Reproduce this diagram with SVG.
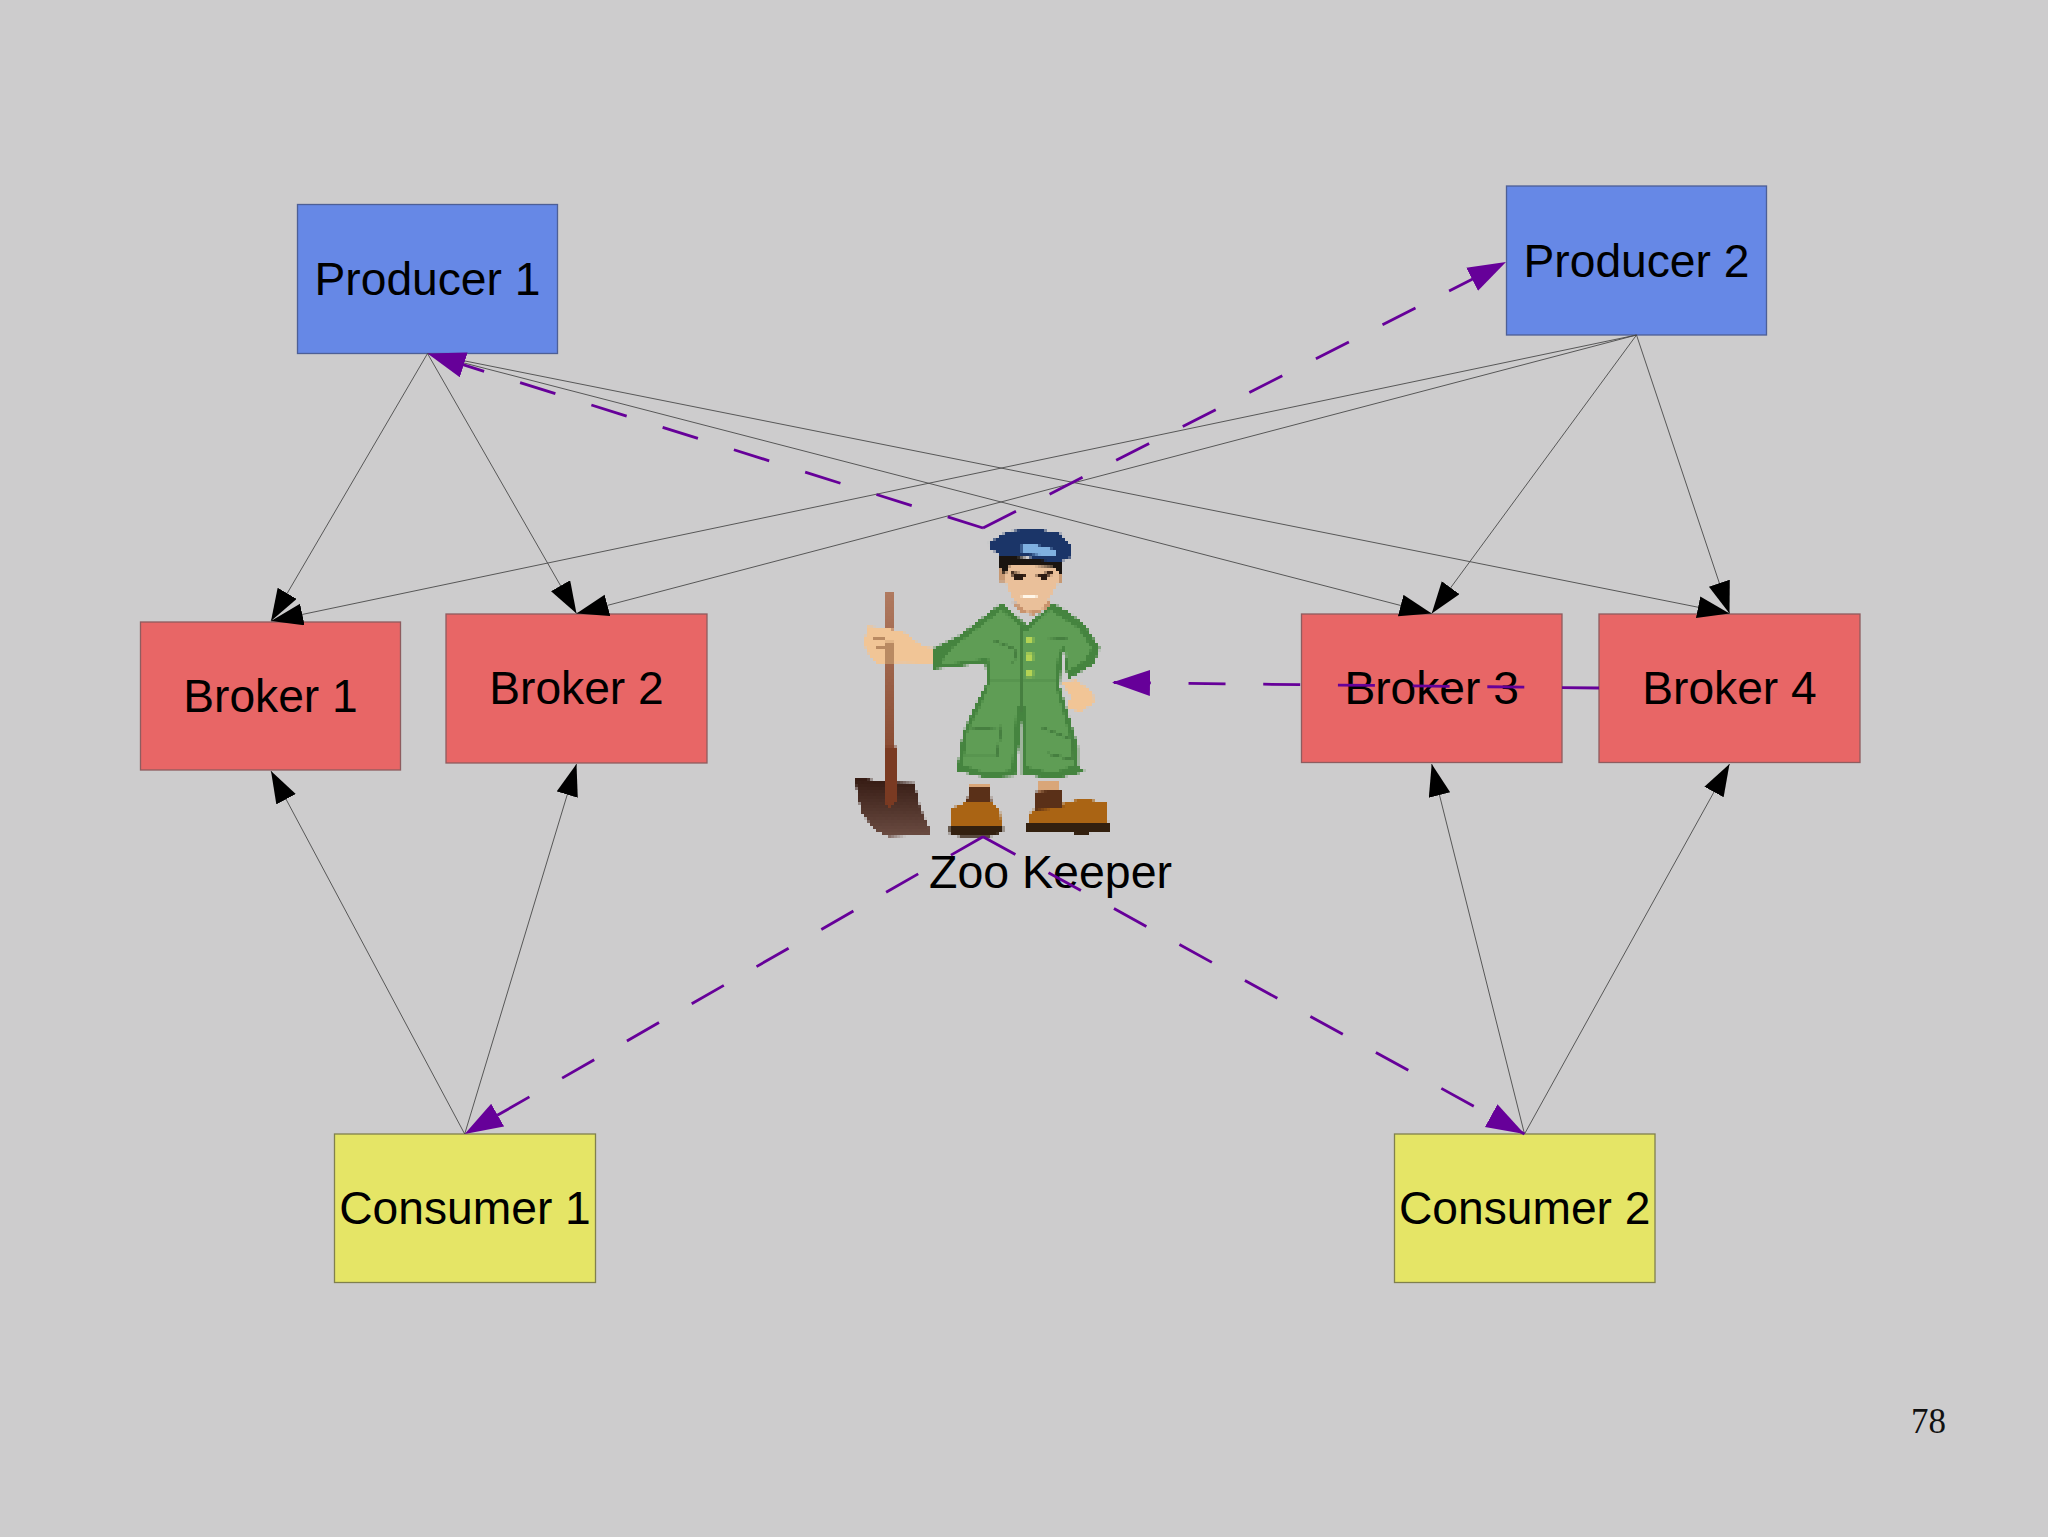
<svg xmlns="http://www.w3.org/2000/svg" width="2048" height="1537" viewBox="0 0 2048 1537">
<style>
.box{stroke-width:1.3}
.p{fill:#6688e6;stroke:#4d5f96}
.b{fill:#e86666;stroke:#8e5c5f}
.c{fill:#e5e566;stroke:#80804d}
.t{font-family:"Liberation Sans",Arial,sans-serif;font-size:46.2px;fill:#000;text-anchor:middle}
.g{stroke:#4a4a4a;stroke-width:.9;fill:none;marker-end:url(#ka)}
.v{stroke:#660099;stroke-width:2.8;fill:none;stroke-dasharray:37 37.7;marker-end:url(#va)}
.ol{fill:none;stroke:#467f40;stroke-width:6}
</style>
<defs>
<marker id="ka" markerUnits="userSpaceOnUse" markerWidth="34" markerHeight="24" refX="32" refY="11" orient="auto"><path d="M0 0L32 11L0 22Z" fill="#000"/></marker>
<marker id="va" markerUnits="userSpaceOnUse" markerWidth="40" markerHeight="28" refX="38" refY="13" orient="auto"><path d="M0 0L38 13L0 26Z" fill="#660099"/></marker>
<linearGradient id="blade" x1="0" y1="0" x2="0" y2="1"><stop offset="0" stop-color="#341a12"/><stop offset="1" stop-color="#6b4c42"/></linearGradient>
<linearGradient id="handle" x1="0" y1="0" x2="0" y2="1"><stop offset="0" stop-color="#b07a60"/><stop offset="1" stop-color="#7d3c24"/></linearGradient>
<filter id="px" x="840" y="520" width="315" height="345" filterUnits="userSpaceOnUse" primitiveUnits="userSpaceOnUse" color-interpolation-filters="sRGB">
<feFlood x="841" y="521" width="1" height="1" flood-color="#000"/>
<feComposite x="840" y="520" width="3" height="3"/>
<feTile result="a"/>
<feComposite in="SourceGraphic" in2="a" operator="in"/>
<feMorphology operator="dilate" radius="1"/>
</filter>
</defs>
<rect width="2048" height="1537" fill="#cdcccd"/>

<g id="node-producer1"><rect class="box p" x="297.5" y="204.5" width="260" height="149"/><text class="t" x="427.5" y="295">Producer 1</text></g>
<g id="node-producer2"><rect class="box p" x="1506.5" y="186" width="260" height="149"/><text class="t" x="1636.5" y="277">Producer 2</text></g>
<g id="node-broker1"><rect class="box b" x="140.5" y="622" width="260" height="148"/><text class="t" x="270.5" y="712">Broker 1</text></g>
<g id="node-broker2"><rect class="box b" x="446" y="614" width="261" height="149"/><text class="t" x="576.5" y="704">Broker 2</text></g>
<g id="node-broker3"><rect class="box b" x="1301.5" y="614" width="260.5" height="148.5"/><text class="t" x="1431.7" y="704">Broker 3</text></g>
<g id="node-broker4"><rect class="box b" x="1599" y="614" width="261" height="148.5"/><text class="t" x="1729.5" y="704">Broker 4</text></g>
<g id="node-consumer1"><rect class="box c" x="334.5" y="1134" width="261" height="148.5"/><text class="t" x="465" y="1224">Consumer 1</text></g>
<g id="node-consumer2"><rect class="box c" x="1394.5" y="1134" width="260.5" height="148.5"/><text class="t" x="1524.7" y="1224">Consumer 2</text></g>

<g id="node-zookeeper">
<g id="zoo-figure" filter="url(#px)">
<g transform="translate(820 500) scale(.33333)">
<path fill="url(#handle)" d="M195 275H222V740H232V900H192Z"/>
<path fill="url(#blade)" d="M105 830L190 845L283 848L300 920L328 985V1005L205 1010L165 990L125 940L110 870Z"/>
<path fill="#7a3a22" d="M195 740H230V905L205 925L192 900Z"/>
<path fill="#f1c596" d="M130 430L145 378L200 385L250 395L310 440L350 445V490L250 488L170 490L150 470Z"/>
<path fill="#b98a62" d="M160 410H195V420H160ZM165 440H200V450H165ZM195 425H222V490H195Z"/>
<path fill="#f1c596" d="M725 545L770 540L820 580L822 610L780 635L740 625L752 590Z"/>
<path fill="#d9a679" d="M450 850H510V880H450ZM655 840H720V880H655Z"/>
<path fill="#45843f" d="M340 445L420 405L545 308L620 375L700 310L745 335L795 375L840 445L822 492L745 538L735 500L745 430L725 470L720 560L775 740L775 800L798 815L700 838L605 822L605 660L587 828L500 834L410 812L428 700L468 610L503 545L495 490L340 508Z"/>
<path fill="#5f9d55" d="M395 445L545 330L600 380L620 395L690 330L775 385L815 445L795 480L745 512L735 435L715 460L705 550L755 730L760 795L700 820L620 800L618 620L590 620L575 810L500 820L430 795L440 700L485 610L512 540L505 475L358 495Z"/>
<path class="ol" d="M505 545H720M605 380V640M520 420L590 450L580 490M680 420L740 415M440 690L545 680L530 770L440 770M660 680L760 720V780L680 760"/>
<path fill="#b4d354" d="M618 408H640V428H618ZM618 460H640V480H618ZM618 512H640V532H618Z"/>
<path fill="#c79872" d="M535 200H560V245H535ZM700 200H725V250H700Z"/>
<path fill="#eac09a" d="M552 180L720 190V240L690 290L665 335L620 340L575 290L555 240Z"/>
<path fill="#c9936d" d="M570 295L620 335L665 330L690 295V320L640 345L600 338Z"/>
<path fill="#1a1410" d="M535 165L725 185V225L702 200L570 195L555 225L535 195Z"/>
<path fill="#3a2418" d="M570 215L620 222V232L570 226ZM650 224L700 212V224L650 234Z"/>
<path fill="#2a1a12" d="M585 225H610V238H585ZM660 225H680V238H660Z"/>
<path fill="#fff6e8" d="M605 282H650V294H605Z"/>
<path fill="#1b3568" d="M505 130L560 95L640 85L720 100L755 140L755 170L710 190L620 170L540 165L510 145Z"/>
<path fill="#7fb0e0" d="M605 135H650L710 150V170L660 165L605 160Z"/>
<path fill="#aa6414" d="M395 925L440 905H515L540 930L545 985H395Z"/>
<path fill="#5a3018" d="M440 905L450 860H510L515 905Z"/>
<path fill="#33200f" d="M388 978H550V995L510 1010H420L388 1000Z"/>
<path fill="#aa6414" d="M625 945L645 925H725L730 910L790 895L860 910L865 972H625Z"/>
<path fill="#5a3018" d="M645 875L725 870L730 925L645 930Z"/>
<path fill="#33200f" d="M620 970H873V995H815L800 1008H775L760 998H620Z"/>
</g>
</g>
<text class="t" x="1050.5" y="888" style="font-size:46.5px">Zoo Keeper</text>
</g>

<g id="connectors">
<path class="g" d="M427.5 353.5L271 621"/>
<path class="g" d="M427.5 353.5L576.5 613.5"/>
<path class="g" d="M427.5 353.5L1431.7 613.5"/>
<path class="g" d="M427.5 353.5L1729.5 613.5"/>
<path class="g" d="M1636.5 335L271 621"/>
<path class="g" d="M1636.5 335L576.5 613.5"/>
<path class="g" d="M1636.5 335L1431.7 613.5"/>
<path class="g" d="M1636.5 335L1729.5 613.5"/>
<path class="g" d="M464.7 1134L271 771"/>
<path class="g" d="M464.7 1134L576.5 764"/>
<path class="g" d="M1524.5 1134L1431.7 764"/>
<path class="g" d="M1524.5 1134L1729.5 764"/>
<path class="v" d="M983 528L427.5 353.5"/>
<path class="v" d="M983 528L1506 262"/>
<path class="v" d="M983 836.7L464.7 1134"/>
<path class="v" d="M983 836.7L1524.5 1134"/>
<path class="v" d="M1599 688L1112 682.5"/>
</g>
<text x="1911" y="1433" font-family="'Liberation Serif','Times New Roman',serif" font-size="35" fill="#111">78</text>
</svg>
